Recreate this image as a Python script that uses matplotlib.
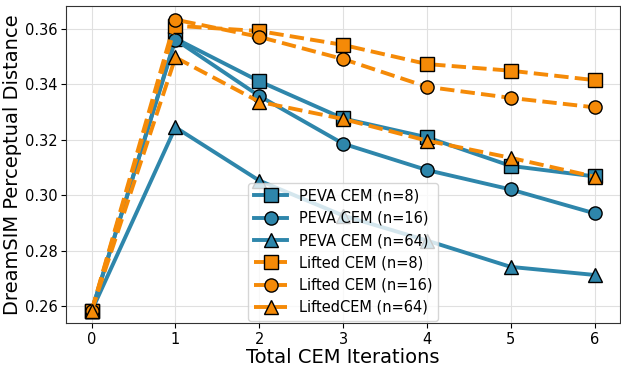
import matplotlib
matplotlib.use("Agg")
import matplotlib.pyplot as plt

iterations = [0, 1, 2, 3, 4, 5, 6]
peva_n8 = [0.2582, 0.3564, 0.3410, 0.3276, 0.3208, 0.3105, 0.3067]
peva_n16 = [0.2582, 0.3560, 0.3357, 0.3185, 0.3090, 0.3020, 0.2934]
peva_n64 = [0.2582, 0.3244, 0.3052, 0.2926, 0.2836, 0.2741, 0.2712]
lifted_n8 = [0.2582, 0.3610, 0.3591, 0.3541, 0.3472, 0.3448, 0.3414]
lifted_n16 = [0.2582, 0.3632, 0.3570, 0.3490, 0.3390, 0.3350, 0.3316]
lifted_n64 = [0.2582, 0.3496, 0.3336, 0.3274, 0.3196, 0.3134, 0.3066]

labels = ["PEVA CEM (n=8)", "PEVA CEM (n=16)", "PEVA CEM (n=64)",
          "Lifted CEM (n=8)", "Lifted CEM (n=16)", "LiftedCEM (n=64)"]

blue = "#2E86AB"
orange = "#F58A07"

fig, ax = plt.subplots(figsize=(6.21, 3.67), dpi=100)
series = [peva_n8, peva_n16, peva_n64, lifted_n8, lifted_n16, lifted_n64]
markers = ["s", "o", "^", "s", "o", "^"]
for i, (vals, lab, m) in enumerate(zip(series, labels, markers)):
    peva = i < 3
    ax.plot(iterations, vals, color=blue if peva else orange,
            linestyle="-" if peva else "--", linewidth=2.8,
            marker=m, markersize=9.5, markeredgecolor="black",
            markeredgewidth=1.0, label=lab, zorder=3)

ax.set_xlim(-0.3, 6.3)
ax.set_ylim(0.2539, 0.3683)
ax.set_xticks(iterations)
ax.set_yticks([0.26, 0.28, 0.30, 0.32, 0.34, 0.36])
ax.set_yticklabels(["0.26", "0.28", "0.30", "0.32", "0.34", "0.36"])
ax.tick_params(labelsize=10.5, pad=3)
ax.grid(True, color="#e0e0e0", linewidth=0.8)
ax.set_axisbelow(True)
ax.set_xlabel("Total CEM Iterations", fontsize=14, labelpad=1)
ax.set_ylabel("DreamSIM Perceptual Distance", fontsize=14, labelpad=2)
ax.legend(loc="lower center", fontsize=10.5, handlelength=2.3,
          borderaxespad=0.15)
for s in ax.spines.values():
    s.set_color("#333333")

fig.subplots_adjust(left=0.107, right=0.998, top=0.985, bottom=0.12)
fig.savefig("out.png", dpi=100)
